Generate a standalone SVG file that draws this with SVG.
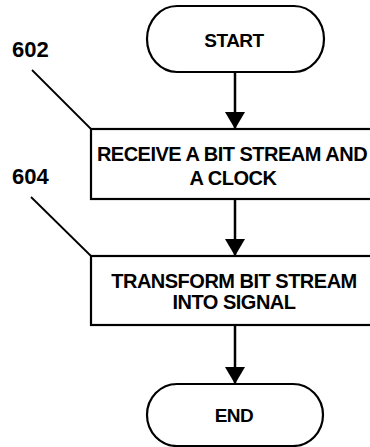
<svg xmlns="http://www.w3.org/2000/svg" width="370" height="447" viewBox="0 0 370 447">
<style>
.shape{fill:#fff;stroke:#000;stroke-width:2.2}
.t{font-family:"Liberation Sans",Arial,sans-serif;font-weight:bold;fill:#000;text-anchor:middle;letter-spacing:-0.5px}
.lbl{font-family:"Liberation Sans",Arial,sans-serif;font-weight:bold;font-size:22px;fill:#000}
.edge{stroke:#000;stroke-width:2.5;fill:none}
.lead{stroke:#000;stroke-width:1.8;fill:none}
</style>
<defs>
<marker id="ah" viewBox="0 0 17 20" refX="16" refY="10" markerWidth="17" markerHeight="20" markerUnits="userSpaceOnUse" orient="auto">
<path d="M0,0 L17,10 L0,20 Z" fill="#000"/>
</marker>
</defs>
<rect width="370" height="447" fill="#fff"/>
<g id="start">
<rect class="shape" x="147" y="6" width="177" height="66" rx="30" ry="33"/>
<text class="t" x="234" y="47" font-size="19">START</text>
</g>
<g id="n602">
<rect class="shape" x="91" y="129" width="285" height="70"/>
<text class="t" x="232" y="161" font-size="20">RECEIVE A BIT STREAM AND</text>
<text class="t" x="233" y="185" font-size="20">A CLOCK</text>
</g>
<g id="n604">
<rect class="shape" x="91" y="256" width="285" height="69"/>
<text class="t" x="234" y="288" font-size="20">TRANSFORM BIT STREAM</text>
<text class="t" x="234" y="309" font-size="20">INTO SIGNAL</text>
</g>
<g id="end">
<rect class="shape" x="147" y="384" width="176" height="62" rx="30" ry="31"/>
<text class="t" x="234" y="422" font-size="19">END</text>
</g>
<g id="connectors">
<line class="edge" x1="235" y1="72" x2="235" y2="128" marker-end="url(#ah)"/>
<line class="edge" x1="235" y1="199" x2="235" y2="255" marker-end="url(#ah)"/>
<line class="edge" x1="235" y1="325" x2="235" y2="383" marker-end="url(#ah)"/>
<line class="lead" x1="32" y1="70" x2="91" y2="129"/>
<line class="lead" x1="31" y1="197" x2="91" y2="256"/>
</g>
<g id="labels">
<text class="lbl" x="12" y="57">602</text>
<text class="lbl" x="12" y="184">604</text>
</g>
</svg>
